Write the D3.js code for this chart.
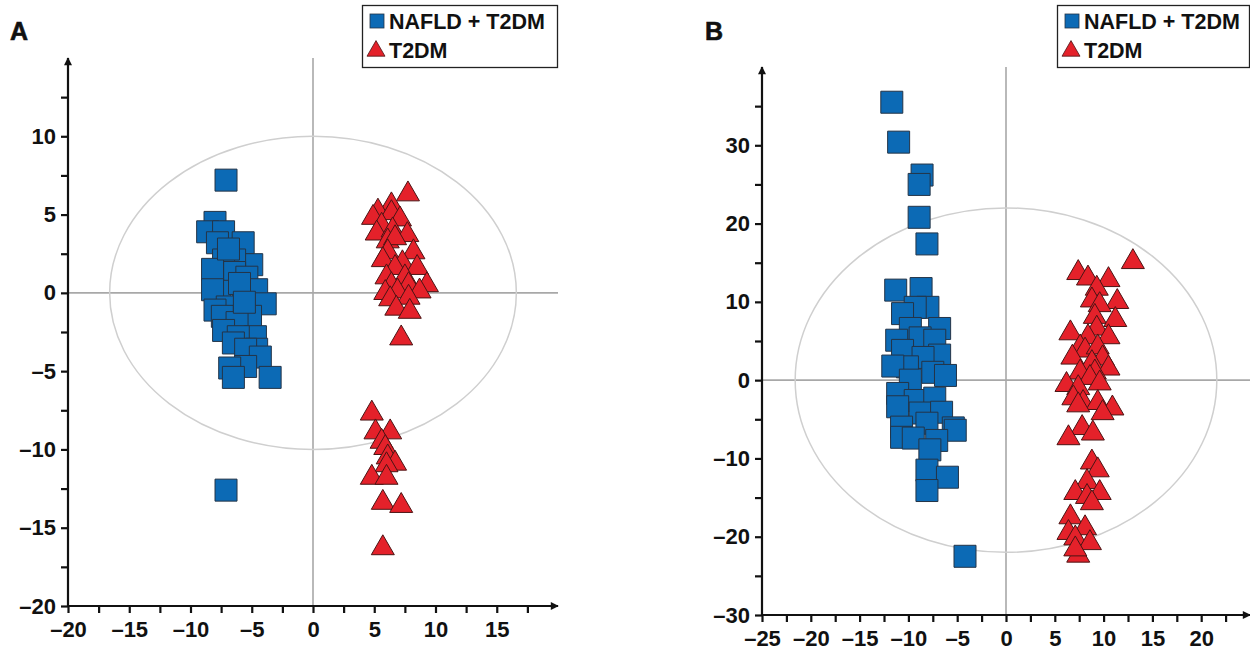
<!DOCTYPE html>
<html>
<head>
<meta charset="utf-8">
<script src="https://cdn.jsdelivr.net/npm/d3@7"></script>
<style>
  html, body { margin: 0; padding: 0; background: #fff; }
  svg { display: block; font-family: "Liberation Sans", Arial, Helvetica, sans-serif; }
</style>
</head>
<body>
<svg id="chart" width="1250" height="650"></svg>
<script>
// Score plot A: NAFLD + T2DM group (t[1], t[2])
const scoresA_nafld = [
  [-7.1, 7.2], [-7.1, -12.6],
  [-8.0, 4.5], [-8.6, 3.9], [-7.3, 3.9], [-7.8, 3.2], [-5.7, 3.2], [-5.0, 1.8],
  [-6.4, 2.1], [-7.3, 2.1], [-7.8, 1.0], [-6.4, 1.3], [-5.4, 1.0], [-8.2, 1.5],
  [-7.6, 0.1], [-5.7, 0.1], [-4.6, 0.2], [-8.2, 0.2], [-3.9, -0.7], [-7.0, -0.9],
  [-8.0, -1.1], [-7.4, -1.5], [-5.1, -1.5], [-6.2, -1.9], [-7.3, -2.4], [-4.7, -2.8],
  [-6.1, -2.8], [-6.5, -3.2], [-4.6, -3.6], [-5.5, -3.6], [-4.3, -4.1], [-5.5, -4.7],
  [-6.8, -4.8], [-6.5, -5.4], [-3.5, -5.4], [-6.0, 0.6], [-6.9, 2.8], [-5.6, -0.6]
];
// Score plot A: T2DM group
const scoresA_t2dm = [
  [7.75, 6.3], [6.4, 5.6], [5.3, 5.2], [4.9, 4.8], [6.4, 5.1], [7.1, 4.7], [5.6, 4.3],
  [5.2, 3.8], [6.5, 4.0], [7.7, 3.7], [6.1, 3.3], [6.7, 3.5], [8.2, 2.6], [6.1, 2.6],
  [5.7, 2.1], [7.3, 1.9], [8.5, 1.6], [6.7, 1.6], [6.0, 1.0], [7.5, 1.0], [9.3, 0.5],
  [7.8, 0.5], [6.4, 0.5], [8.7, 0.1], [6.9, 0.1], [5.9, 0.0], [6.3, -0.4], [7.8, -0.3],
  [6.8, -1.0], [7.9, -1.2], [7.2, -2.9],
  [4.8, -7.7], [5.1, -8.9], [6.3, -8.9], [5.6, -9.5], [5.9, -9.9], [6.1, -10.5],
  [6.7, -10.9], [6.0, -11.0], [4.8, -11.8], [6.0, -11.8], [5.7, -13.4], [7.2, -13.6],
  [5.7, -16.3]
];
// Score plot B: NAFLD + T2DM group
const scoresB_nafld = [
  [-11.7, 35.5], [-11.0, 30.4], [-8.6, 26.2], [-8.9, 25.0], [-8.9, 20.8], [-8.1, 17.4],
  [-11.3, 11.5], [-8.7, 11.7], [-8.0, 9.3], [-9.3, 9.3], [-10.6, 8.5], [-6.8, 6.6],
  [-9.8, 6.6], [-8.8, 5.4], [-7.3, 5.1], [-11.2, 5.1], [-10.6, 3.8], [-6.8, 3.2],
  [-8.5, 2.9], [-10.1, 1.7], [-11.6, 1.8], [-7.5, 1.0], [-6.2, 0.6], [-9.8, 0.0],
  [-11.1, -1.7], [-9.3, -2.6], [-7.3, -2.3], [-11.1, -3.4], [-8.8, -4.2], [-6.6, -4.1],
  [-8.1, -5.5], [-10.7, -6.0], [-5.4, -6.1], [-5.2, -6.4], [-10.7, -7.3], [-9.5, -7.4],
  [-7.1, -7.7], [-7.8, -8.9], [-8.1, -11.5], [-6.0, -12.4], [-8.1, -14.1], [-4.2, -22.5]
];
// Score plot B: T2DM group
const scoresB_t2dm = [
  [13.0, 15.1], [7.4, 13.7], [8.4, 13.0], [10.5, 12.8], [9.3, 11.7], [11.4, 10.0],
  [8.8, 10.2], [9.6, 9.6], [9.1, 8.1], [11.2, 7.7], [6.6, 6.0], [9.3, 6.6], [10.5, 5.5],
  [8.4, 5.5], [7.6, 4.2], [8.1, 3.8], [9.4, 4.2], [9.9, 2.8], [6.8, 2.9], [8.8, 2.2],
  [10.5, 1.5], [7.6, 1.0], [9.1, 1.0], [8.6, 0.3], [6.2, -0.6], [7.4, -1.0], [9.6, -0.4],
  [6.9, -2.3], [7.9, -2.9], [9.4, -2.9], [10.9, -3.6], [9.9, -4.2], [7.4, -3.2],
  [7.8, -6.1], [8.9, -6.8], [6.4, -7.4], [8.8, -10.5], [9.4, -11.5], [8.3, -13.0],
  [7.1, -14.4], [8.3, -14.9], [9.6, -14.4], [8.8, -15.7], [6.6, -17.5], [8.1, -18.9],
  [6.4, -19.5], [7.1, -20.2], [8.6, -20.8], [7.4, -22.4], [7.1, -21.6]
];

// Axis ticks
const ticksA_x = [-20, -15, -10, -5, 0, 5, 10, 15];
const ticksA_y = [-20, -15, -10, -5, 0, 5, 10];
const ticksB_x = [-25, -20, -15, -10, -5, 0, 5, 10, 15, 20];
const ticksB_y = [-30, -20, -10, 0, 10, 20, 30];

// Hotelling T2 ellipse radii
const ellipseA = [16.6, 10];
const ellipseB = [21.6, 22];

const seriesNames = ["NAFLD + T2DM", "T2DM"];

const BLUE = "#0c6ab5", BLUE_STROKE = "#243447";
const RED = "#e4212a", RED_STROKE = "#4a1414";

const svg = d3.select("#chart");

const panels = [
  {
    label: "A", labelX: 10,
    xDomain: [-20, 20], xRange: [68, 558],
    yDomain: [-20, 15], yRange: [606, 58],
    xTicks: ticksA_x, yTicks: ticksA_y,
    xMinor: d3.range(-17.5, 20, 5), yMinor: d3.range(-17.5, 15, 5),
    ellipse: ellipseA, nafld: scoresA_nafld, t2dm: scoresA_t2dm,
    legend: { x: 362, y: 5, w: 195, h: 62 }
  },
  {
    label: "B", labelX: 705,
    xDomain: [-25, 25], xRange: [762, 1250],
    yDomain: [-30, 40], yRange: [615, 67],
    xTicks: ticksB_x, yTicks: ticksB_y,
    xMinor: d3.range(-22.5, 25, 5), yMinor: d3.range(-25, 40, 10),
    ellipse: ellipseB, nafld: scoresB_nafld, t2dm: scoresB_t2dm,
    legend: { x: 1057, y: 5, w: 192, h: 62 }
  }
];

const squareSym = d3.symbol().type(d3.symbolSquare).size(22 * 22);
const triSym = d3.symbol().type(d3.symbolTriangle).size(Math.sqrt(3) / 4 * 23 * 23);

const defs = svg.append("defs");
defs.append("marker")
  .attr("id", "arrow")
  .attr("viewBox", "0 0 10 10")
  .attr("refX", 9).attr("refY", 5)
  .attr("markerWidth", 10).attr("markerHeight", 8)
  .attr("markerUnits", "userSpaceOnUse")
  .attr("orient", "auto")
  .append("path").attr("d", "M0,0 L10,5 L0,10 Z").attr("fill", "#111");

panels.forEach(p => {
  const x = d3.scaleLinear().domain(p.xDomain).range(p.xRange);
  const y = d3.scaleLinear().domain(p.yDomain).range(p.yRange);
  const g = svg.append("g");

  // Panel letter
  g.append("text")
    .attr("x", p.labelX).attr("y", 40)
    .style("font-size", "25px").style("font-weight", "bold")
    .attr("fill", "#111").attr("stroke", "#111").attr("stroke-width", 0.6)
    .text(p.label);

  // Reference lines through the origin
  g.append("line")
    .attr("x1", x(0)).attr("x2", x(0))
    .attr("y1", y(p.yDomain[1])).attr("y2", y(p.yDomain[0]))
    .attr("stroke", "#a8a8a8").attr("stroke-width", 1.6);
  g.append("line")
    .attr("x1", x(p.xDomain[0])).attr("x2", x(p.xDomain[1]))
    .attr("y1", y(0)).attr("y2", y(0))
    .attr("stroke", "#a8a8a8").attr("stroke-width", 1.6);

  // Confidence ellipse
  g.append("ellipse")
    .attr("cx", x(0)).attr("cy", y(0))
    .attr("rx", x(p.ellipse[0]) - x(0))
    .attr("ry", y(0) - y(p.ellipse[1]))
    .attr("fill", "none")
    .attr("stroke", "#cfcfcf").attr("stroke-width", 1.5);

  // Scores
  g.append("g").selectAll("path")
    .data(p.nafld)
    .join("path")
    .attr("transform", d => `translate(${x(d[0])},${y(d[1])})`)
    .attr("d", squareSym)
    .attr("fill", BLUE).attr("stroke", BLUE_STROKE).attr("stroke-width", 1);

  g.append("g").selectAll("path")
    .data(p.t2dm)
    .join("path")
    .attr("transform", d => `translate(${x(d[0])},${y(d[1])})`)
    .attr("d", triSym)
    .attr("fill", RED).attr("stroke", RED_STROKE).attr("stroke-width", 1);

  // Axes
  const fmt = d => d < 0 ? "\u2013" + Math.abs(d) : String(d);
  const yAxisG = g.append("g").attr("transform", `translate(${x(p.xDomain[0])},0)`);
  yAxisG.call(d3.axisLeft(y).tickValues(p.yTicks).tickSize(7).tickPadding(5).tickFormat(fmt));
  yAxisG.append("g").call(d3.axisLeft(y).tickValues(p.yMinor).tickSize(7).tickFormat(""));
  const xAxisG = g.append("g").attr("transform", `translate(0,${y(p.yDomain[0])})`);
  xAxisG.call(d3.axisBottom(x).tickValues(p.xTicks).tickSize(7).tickPadding(8).tickFormat(fmt));
  xAxisG.append("g").call(d3.axisBottom(x).tickValues(p.xMinor).tickSize(7).tickFormat(""));

  [yAxisG, xAxisG].forEach(a => {
    a.attr("font-size", null).attr("font-family", null);
    a.selectAll(".domain").remove();
    a.selectAll("line").attr("stroke", "#111").attr("stroke-width", 2.2);
    a.selectAll("text")
      .style("font-size", "22px").style("font-weight", "bold")
      .style("font-family", "'Liberation Sans', Arial, sans-serif")
      .attr("fill", "#111");
  });

  // Axis lines with arrowheads
  g.append("line")
    .attr("x1", x(p.xDomain[0])).attr("x2", x(p.xDomain[0]))
    .attr("y1", y(p.yDomain[0]) + 1).attr("y2", y(p.yDomain[1]))
    .attr("stroke", "#111").attr("stroke-width", 2.2)
    .attr("marker-end", "url(#arrow)");
  g.append("line")
    .attr("x1", x(p.xDomain[0]) - 1).attr("x2", x(p.xDomain[1]))
    .attr("y1", y(p.yDomain[0])).attr("y2", y(p.yDomain[0]))
    .attr("stroke", "#111").attr("stroke-width", 2.2)
    .attr("marker-end", "url(#arrow)");

  // Legend
  const L = p.legend;
  const lg = g.append("g").attr("transform", `translate(${L.x},${L.y})`);
  lg.append("rect")
    .attr("x", 0.5).attr("y", 0.5).attr("width", L.w).attr("height", L.h)
    .attr("fill", "#fff").attr("stroke", "#222").attr("stroke-width", 1.3);
  lg.append("rect")
    .attr("x", 8).attr("y", 9).attr("width", 14).attr("height", 14)
    .attr("fill", BLUE).attr("stroke", BLUE_STROKE).attr("stroke-width", 0.8);
  lg.append("path")
    .attr("transform", "translate(14,46)")
    .attr("d", d3.symbol().type(d3.symbolTriangle).size(Math.sqrt(3) / 4 * 18 * 18))
    .attr("fill", RED).attr("stroke", RED_STROKE).attr("stroke-width", 0.8);
  lg.selectAll("text.leg")
    .data(seriesNames)
    .join("text")
    .attr("class", "leg")
    .attr("x", 27).attr("y", (d, i) => 24 + i * 29)
    .style("font-size", "21.5px").style("font-weight", "bold").attr("fill", "#111")
    .text(d => d);
});
</script>
</body>
</html>
